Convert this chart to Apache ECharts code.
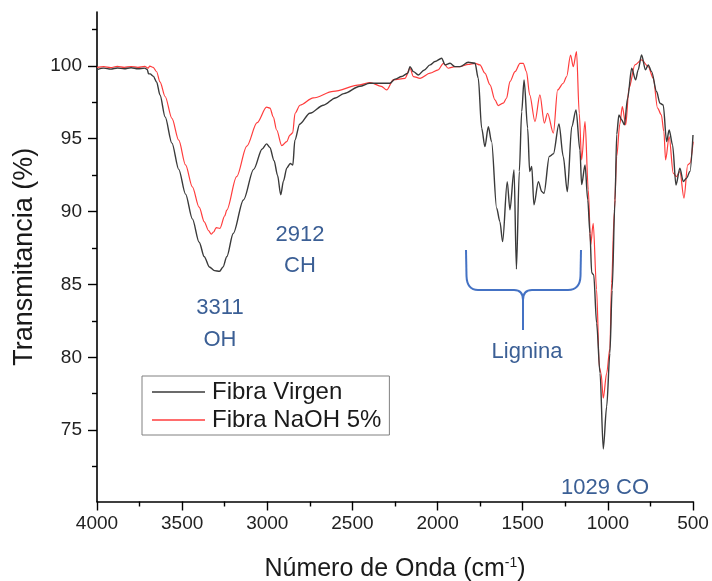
<!DOCTYPE html>
<html>
<head>
<meta charset="utf-8">
<script src="https://cdn.jsdelivr.net/npm/echarts@6/dist/echarts.min.js"></script>
<style>html,body{margin:0;padding:0;background:#fff}#c{width:712px;height:581px}</style>
</head>
<body>
<div id="c"></div>
<script>
// Wavenumber (cm-1) and transmittance (%) for each spectrum
const virgenX = [4000,3960,3920,3880,3840,3800,3760,3720,3705,3697,3688,3670,3650,3630,3600,3560,3520,3480,3440,3400,3370,3340,3310,3280,3260,3238,3200,3140,3080,3030,3004,2985,2960,2940,2921,2905,2885,2865,2850,2838,2810,2750,2670,2600,2550,2456,2400,2280,2250,2211,2175,2162,2142,2113,2080,2044,2015,1976,1956,1927,1898,1868,1820,1780,1761,1741,1722,1702,1683,1653,1634,1618,1591,1575,1551,1537,1520,1506,1492,1471,1459,1447,1434,1408,1388,1375,1344,1320,1287,1262,1238,1212,1187,1164,1154,1134,1118,1105,1095,1083,1066,1046,1027,1007,988,975,958,948,935,919,903,884,860,837,822,802,779,763,743,714,694,675,655,640,620,600,577,557,538,518,500];
const virgenY = [99.75,99.85,99.78,99.86,99.8,99.87,99.8,99.85,99.75,99.45,99.45,99.3,98.9,98.0,96.5,94.7,92.9,91.2,89.5,87.9,86.9,86.2,85.95,85.9,86.2,86.9,88.5,90.8,92.9,94.3,94.65,94.4,93.5,92.5,91.15,92.1,93.0,93.3,93.2,94.9,96.0,96.75,97.3,97.8,98.1,98.6,98.81,98.81,99.09,99.27,99.5,99.95,99.61,99.38,99.7,100.07,100.3,100.53,100.07,100.18,99.95,99.95,100.25,100.18,99.15,95.72,94.46,95.83,94.8,90.23,89.31,87.94,92.06,90.12,92.86,86.05,92.75,96.86,99.04,95.72,92.75,93.09,90.46,92.06,91.37,91.26,93.78,93.96,96.02,93.78,91.37,95.83,96.98,94.23,91.85,93.2,90.8,88.5,85.8,85.66,82.34,78.91,73.7,76.62,80.28,84.6,90.8,95.3,96.64,96.3,95.95,97.78,99.84,99.04,99.73,100.75,99.73,100.07,99.61,98.24,97.44,97.32,94.8,95.6,94.58,91.83,92.98,92.06,92.29,92.75,95.26];

const naohX = [4000,3960,3920,3880,3840,3800,3760,3720,3700,3690,3670,3650,3630,3600,3560,3520,3480,3440,3400,3370,3345,3330,3315,3300,3278,3250,3238,3180,3120,3060,3004,2984,2965,2945,2915,2886,2867,2851,2837,2808,2730,2613,2456,2397,2330,2299,2260,2191,2162,2142,2103,2044,1996,1966,1937,1898,1868,1820,1780,1751,1722,1692,1663,1644,1614,1595,1575,1545,1516,1497,1478,1459,1428,1399,1373,1354,1320,1295,1262,1242,1219,1203,1184,1168,1154,1134,1115,1101,1086,1066,1050,1040,1027,1007,988,978,962,948,930,915,895,876,841,802,763,733,708,686,671,661,640,616,597,577,553,531,518,499];
const naohY = [99.9,99.95,99.88,99.97,99.9,99.96,99.9,99.97,99.85,99.98,99.9,99.6,98.9,97.9,96.4,94.9,93.2,91.7,90.3,89.3,88.7,88.45,88.6,88.9,88.85,89.7,90.1,92.4,94.5,96.1,97.17,97.1,96.5,95.6,94.53,94.8,95.25,95.4,96.75,97.3,97.8,98.25,98.7,98.86,98.6,98.35,99.04,99.15,99.84,99.27,99.15,99.5,99.73,100.18,99.84,99.95,99.95,100.1,100.18,100.07,99.5,98.7,97.67,97.28,97.44,97.78,98.92,99.61,100.18,100.18,99.61,98.01,96.18,98.01,96.07,96.75,95.38,98.35,98.81,99.27,100.75,99.95,100.98,96.75,93.55,96.18,91.49,87.71,89.2,84.63,79.3,78.9,77.19,78.91,80.62,85.1,90.0,93.8,96.0,97.2,95.95,98.47,100.07,100.41,99.95,99.15,97.1,96.64,95.49,93.55,95.15,92.64,92.4,92.75,90.92,93.2,93.32,94.8];

const seriesNames = ['Fibra Virgen', 'Fibra NaOH 5%'];
const xTicks = [500, 4000, 500];           // min, max, step
const yMajorTicks = [75, 80, 85, 90, 95, 100];
const yMinorTicks = [72.5, 77.5, 82.5, 87.5, 92.5, 97.5, 102.5];

const zip = (xs, ys) => xs.map((x, i) => [x, ys[i]]);
const FONT = 'Liberation Sans, Arial, sans-serif';
const chart = echarts.init(document.getElementById('c'));

const yBase = {
  type: 'value', min: 70.1, max: 103.7, position: 'left',
  splitLine: { show: false }
};

const ANN = '#3b5f95';
const BR = { stroke: '#4472c4', lineWidth: 2, fill: null };
function txt(t, x, y) {
  return { type: 'text', x: x, y: y, z: 10,
    style: { text: t, fontFamily: FONT, fontSize: 22, fill: ANN, align: 'center', verticalAlign: 'middle' } };
}
function seg(x1, y1, x2, y2) { return { type: 'line', z: 10, shape: { x1, y1, x2, y2 }, style: BR }; }
function qc(x1, y1, cx, cy, x2, y2) {
  return { type: 'bezierCurve', z: 10, shape: { x1, y1, cpx1: cx, cpy1: cy, x2, y2 }, style: BR };
}

chart.setOption({
  animation: false,
  backgroundColor: '#fff',
  grid: { left: 97, right: 19, top: 12, bottom: 79.5, containLabel: false, outerBoundsMode: 'none' },
  xAxis: {
    type: 'value', inverse: true, min: xTicks[0], max: xTicks[1], interval: xTicks[2],
    name: 'Número de Onda (cm{sup|-1})', nameLocation: 'middle', nameGap: 55,
    nameTextStyle: { fontFamily: FONT, fontSize: 25, color: '#1a1a1a',
      rich: { sup: { fontFamily: FONT, fontSize: 14, color: '#1a1a1a', verticalAlign: 'top', padding: [0, 0, 10, 0] } } },
    axisLine: { onZero: false, lineStyle: { color: '#000', width: 1.6 } },
    axisTick: { length: 9, lineStyle: { color: '#000', width: 1.4 } },
    minorTick: { show: true, splitNumber: 2, length: 5, lineStyle: { color: '#000', width: 1.4 } },
    axisLabel: { fontFamily: FONT, fontSize: 19, color: '#222', margin: 13, formatter: v => String(v) },
    splitLine: { show: false }
  },
  yAxis: [
    Object.assign({}, yBase, {
      name: 'Transmitancia (%)', nameLocation: 'middle', nameGap: 59,
      nameTextStyle: { fontFamily: FONT, fontSize: 27, color: '#1a1a1a' },
      axisLine: { show: true, lineStyle: { color: '#000', width: 1.6 } },
      axisTick: { show: true, length: 9, customValues: yMajorTicks, lineStyle: { color: '#000', width: 1.4 } },
      axisLabel: { fontFamily: FONT, fontSize: 19, color: '#222', margin: 15, customValues: yMajorTicks }
    }),
    Object.assign({}, yBase, {
      axisLine: { show: false },
      axisTick: { show: true, length: 5, customValues: yMinorTicks, lineStyle: { color: '#000', width: 1.4 } },
      axisLabel: { show: false }
    })
  ],
  legend: {
    left: 142, top: 376, orient: 'vertical',
    data: seriesNames,
    icon: 'rect', itemWidth: 53, itemHeight: 1.5, itemGap: 4,
    padding: [4, 8, 3, 10],
    borderColor: '#808080', borderWidth: 1, backgroundColor: '#fff',
    textStyle: { fontFamily: FONT, fontSize: 24, color: '#1a1a1a', padding: [0, 0, 0, 2] }
  },
  series: [
    { name: seriesNames[0], type: 'line', data: zip(virgenX, virgenY), showSymbol: false,
      smooth: 0.3, smoothMonotone: 'x', z: 3,
      lineStyle: { color: '#3a3a3a', width: 1.4 }, itemStyle: { color: '#3a3a3a' } },
    { name: seriesNames[1], type: 'line', data: zip(naohX, naohY), showSymbol: false,
      smooth: 0.3, smoothMonotone: 'x', z: 2,
      lineStyle: { color: '#ff3c3c', width: 1.2 }, itemStyle: { color: '#ff3c3c' } }
  ],
  graphic: [
    txt('3311', 220, 308), txt('OH', 220, 340),
    txt('2912', 300, 235), txt('CH', 300, 266),
    txt('Lignina', 527, 352), txt('1029 CO', 605, 488),
    seg(466, 250, 466.5, 276), qc(466.5, 276, 467, 290, 478, 290), seg(478, 290, 514, 290),
    qc(514, 290, 523, 290, 523, 300), seg(523, 300, 523, 330),
    qc(523, 300, 523, 290, 532, 290), seg(532, 290, 568, 290),
    qc(568, 290, 580, 290, 580.5, 276), seg(580.5, 276, 581, 250)
  ]
});
</script>
</body>
</html>
